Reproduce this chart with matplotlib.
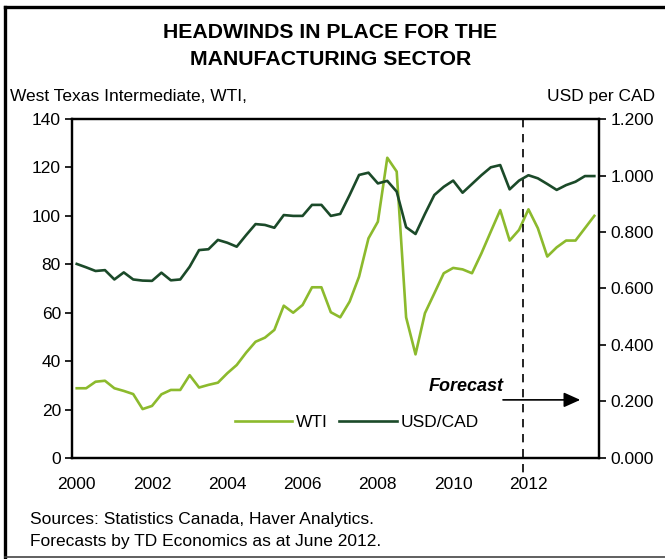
import matplotlib.pyplot as plt
from matplotlib import font_manager
from matplotlib.lines import Line2D
import numpy as np

names = {f.name for f in font_manager.fontManager.ttflist}
base_font = 'Liberation Sans' if 'Liberation Sans' in names else 'DejaVu Sans'
plt.rcParams['font.family'] = base_font

# quarterly data, 2000Q1 .. 2013Q4
years = list(range(2000, 2014))
quarters = [f"{y}Q{q}" for y in years for q in range(1, 5)]

wti = [28.8, 28.8, 31.5, 31.9, 28.8, 27.7, 26.4, 20.2, 21.5, 26.3,
       28.1, 28.1, 34.2, 29.1, 30.2, 31.1, 35.0, 38.4, 43.5, 48.0,
       49.7, 52.9, 62.9, 60.0, 63.2, 70.5, 70.5, 60.2, 58.1, 64.6,
       74.9, 90.7, 97.6, 124.0, 118.3, 58.1, 42.8, 59.8, 68.0, 76.3,
       78.5, 77.9, 76.3, 84.5, 93.5, 102.4, 89.8, 94.2, 102.7, 94.9,
       83.2, 87.0, 89.8, 89.8, 94.9, 100.0]

usdcad = [0.687, 0.675, 0.662, 0.665, 0.632, 0.657, 0.632, 0.628, 0.627, 0.656,
          0.629, 0.632, 0.677, 0.736, 0.739, 0.772, 0.762, 0.748, 0.789, 0.828,
          0.825, 0.815, 0.860, 0.857, 0.857, 0.896, 0.896, 0.857, 0.864, 0.931,
          1.002, 1.010, 0.972, 0.981, 0.943, 0.817, 0.793, 0.864, 0.931, 0.960,
          0.982, 0.939, 0.970, 1.001, 1.029, 1.037, 0.951, 0.982, 1.001, 0.990,
          0.970, 0.949, 0.966, 0.978, 0.998, 0.998]

forecast_start = "2012Q1"
year_labels = [str(y) for y in range(2000, 2014, 2)]

light = '#8cba2d'
dark = '#1b4a29'
fs = 12.5

fig = plt.figure(figsize=(6.65, 5.59), dpi=100)
ax = fig.add_axes([0.1083, 0.1807, 0.7925, 0.6064])
ax2 = ax.twinx()

x = np.arange(len(quarters))
ax.plot(x, wti, color=light, lw=1.9, label='WTI', zorder=3)
ax2.plot(x, usdcad, color=dark, lw=1.9, label='USD/CAD', zorder=3)

ax.set_xlim(-0.5, len(quarters) - 0.5)
ax.set_ylim(0, 140)
ax2.set_ylim(0, 1.2)
ax.set_yticks(np.arange(0, 141, 20))
ax2.set_yticks(np.arange(0, 1.21, 0.2))
ax2.set_yticklabels([f"{v:.3f}" for v in np.arange(0, 1.21, 0.2)])

tick_pos = [quarters.index(f"{y}Q1") for y in year_labels]
ax.set_xticks(tick_pos)
ax.set_xticklabels(year_labels)

for a in (ax, ax2):
    for s in a.spines.values():
        s.set_linewidth(1.6)
    a.tick_params(axis='y', direction='out', length=5, width=1.2, labelsize=fs, pad=3)
ax.tick_params(axis='x', length=0, labelsize=fs, pad=14)

# forecast divider
fx = quarters.index(forecast_start) - 0.55
ax.plot([fx, fx], [140, -6], color='black', lw=1.2, ls=(0, (5, 4)), clip_on=False, zorder=4)
ax.annotate('', xy=(53.8, 24), xytext=(45.0, 24),
            arrowprops=dict(arrowstyle='-|>,head_length=1.0,head_width=0.45', color='black', lw=1.2))
ax.text(45.4, 29.7, 'Forecast', fontsize=13, fontweight='bold', fontstyle='italic',
        ha='right', va='center')

handles = [Line2D([], [], color=light, lw=1.9), Line2D([], [], color=dark, lw=1.9)]
ax.legend(handles, ['WTI', 'USD/CAD'], loc='center', bbox_to_anchor=(0.54, 0.106),
          ncol=2, frameon=False, fontsize=fs, handlelength=3.3, handletextpad=0.2,
          columnspacing=0.7)

fig.text(0.497, 0.941, 'HEADWINDS IN PLACE FOR THE', fontsize=15.3,
         fontweight='bold', ha='center', va='center')
fig.text(0.497, 0.893, 'MANUFACTURING SECTOR', fontsize=15.3,
         fontweight='bold', ha='center', va='center')
fig.text(0.015, 0.827, 'West Texas Intermediate, WTI,', fontsize=fs, ha='left', va='center')
fig.text(0.985, 0.827, 'USD per CAD', fontsize=fs, ha='right', va='center')
fig.text(0.045, 0.071, 'Sources: Statistics Canada, Haver Analytics.', fontsize=fs,
         ha='left', va='center')
fig.text(0.045, 0.031, 'Forecasts by TD Economics as at June 2012.', fontsize=fs,
         ha='left', va='center')

# outer frame
fig.add_artist(Line2D([0.007, 0.007], [0.003, 0.987], color='black', lw=2.4))
fig.add_artist(Line2D([0.007, 1.0], [0.987, 0.987], color='black', lw=2.4))
fig.add_artist(Line2D([0.007, 1.0], [0.003, 0.003], color='#444444', lw=1.2))

fig.savefig('out.png', dpi=100)
